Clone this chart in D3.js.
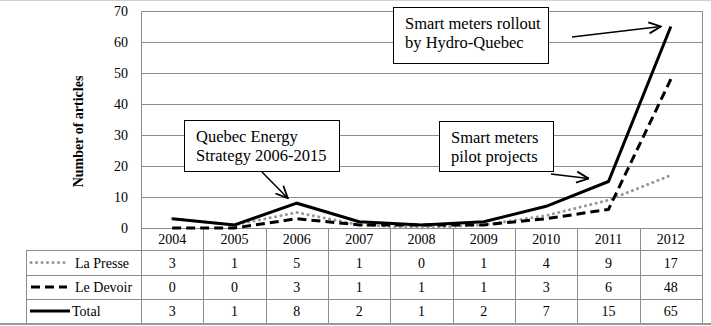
<!DOCTYPE html>
<html><head><meta charset="utf-8">
<script src="https://cdn.jsdelivr.net/npm/d3@7"></script>
<style>body{margin:0;background:#fff}svg{display:block}</style>
</head><body>
<script>
const years = [2004,2005,2006,2007,2008,2009,2010,2011,2012];
const laPresse = [3,1,5,1,0,1,4,9,17];
const leDevoir = [0,0,3,1,1,1,3,6,48];
const total = [3,1,8,2,1,2,7,15,65];
const yTicks = [0,10,20,30,40,50,60,70];
const seriesNames = ["La Presse","Le Devoir","Total"];

const FONT = "'Liberation Serif', 'Times New Roman', 'DejaVu Serif', serif";
const W = 711, H = 326;
const pLeft = 141, pRight = 702, pTop = 11, pBottom = 228;
const svg = d3.select("body").append("svg").attr("width", W).attr("height", H)
  .style("font-family", FONT);

const x = d3.scaleBand().domain(years).range([pLeft, pRight]);
const y = d3.scaleLinear().domain([0,70]).range([pBottom, pTop]);

// frame lines (top light, bottom dark)
svg.append("line").attr("x1",0).attr("x2",W).attr("y1",0.5).attr("y2",0.5).attr("stroke","#d0d0d0");
svg.append("line").attr("x1",0).attr("x2",W).attr("y1",324).attr("y2",324).attr("stroke","#777").attr("stroke-width",1.5);

// gridlines
svg.append("g").selectAll("line").data(yTicks).join("line")
  .attr("x1",pLeft).attr("x2",pRight).attr("y1",d=>Math.round(y(d))+0.5).attr("y2",d=>Math.round(y(d))+0.5)
  .attr("stroke","#8c8c8c").attr("stroke-width",1);
svg.append("line").attr("x1",pLeft+0.5).attr("x2",pLeft+0.5).attr("y1",y(70)).attr("y2",323).attr("stroke","#8c8c8c");
svg.append("line").attr("x1",pRight+0.5).attr("x2",pRight+0.5).attr("y1",y(70)).attr("y2",323).attr("stroke","#8c8c8c");

// y axis labels
const yAxis = d3.axisLeft(y).tickValues(yTicks).tickSize(0).tickPadding(13);
const ga = svg.append("g").attr("transform",`translate(${pLeft},0)`).call(yAxis);
ga.attr("font-family", FONT).attr("font-size",14);
ga.select(".domain").remove();
ga.selectAll("text").attr("fill","#000");

svg.append("text").attr("transform",`translate(83,${(pTop+pBottom)/2+12}) rotate(-90)`)
  .attr("text-anchor","middle").attr("font-size",14).attr("font-weight","bold").text("Number of articles");

// table
const rowH = [228, 250, 275, 299, 323];
const tbl = svg.append("g");
tbl.selectAll("line.v").data(years.slice(1)).join("line")
  .attr("x1",d=>Math.round(x(d))+0.5).attr("x2",d=>Math.round(x(d))+0.5)
  .attr("y1",rowH[0]).attr("y2",rowH[4]).attr("stroke","#8c8c8c");
tbl.selectAll("line.h").data(rowH.slice(1,4)).join("line")
  .attr("x1",26).attr("x2",pRight).attr("y1",d=>d+0.5).attr("y2",d=>d+0.5)
  .attr("stroke","#8c8c8c");
tbl.append("line").attr("x1",26.5).attr("x2",26.5).attr("y1",rowH[1]).attr("y2",rowH[4]).attr("stroke","#8c8c8c");

tbl.selectAll("text.yr").data(years).join("text")
  .attr("x",d=>x(d)+x.bandwidth()/2).attr("y",(rowH[0]+rowH[1])/2+5)
  .attr("text-anchor","middle").attr("font-size",14).text(d=>d);

const seriesData = [laPresse, leDevoir, total];
const styles = [
  {stroke:"#999", dash:"0.1 5.4", width:3, cap:"round"},
  {stroke:"#000", dash:"9 5", width:3, cap:"butt"},
  {stroke:"#000", dash:null, width:3, cap:"butt"}
];
seriesData.forEach((vals,i)=>{
  const cy = (rowH[i+1]+rowH[i+2])/2;
  tbl.selectAll(null).data(vals).join("text")
    .attr("x",(d,j)=>x(years[j])+x.bandwidth()/2).attr("y",cy+5)
    .attr("text-anchor","middle").attr("font-size",14).text(d=>d);
  tbl.append("line").attr("x1",i===2?30:31).attr("x2",i===2?70:67).attr("y1",cy).attr("y2",cy)
    .attr("stroke",styles[i].stroke).attr("stroke-width",styles[i].width)
    .attr("stroke-dasharray",styles[i].dash).attr("stroke-linecap",styles[i].cap);
  tbl.append("text").attr("x",i===2?72:75).attr("y",cy+5).attr("font-size",14).text(seriesNames[i]);
});

// lines
const line = d3.line().x((d,j)=>x(years[j])+x.bandwidth()/2).y(d=>y(d));
seriesData.forEach((vals,i)=>{
  svg.append("path").attr("d",line(vals)).attr("fill","none")
    .attr("stroke",styles[i].stroke).attr("stroke-width",styles[i].width)
    .attr("stroke-dasharray",styles[i].dash).attr("stroke-linecap",styles[i].cap)
    .attr("stroke-linejoin","miter");
});

// arrow marker
svg.append("defs").append("marker").attr("id","arr").attr("viewBox","0 0 14 14")
  .attr("refX",13).attr("refY",7).attr("markerWidth",14).attr("markerHeight",14)
  .attr("markerUnits","userSpaceOnUse").attr("orient","auto")
  .append("path").attr("d","M1,1.5 L13,7 L1,12.5").attr("fill","none").attr("stroke","#000").attr("stroke-width",1.8);

// annotations (box in pixels, arrow to a data point)
const annotations = [
  {lines:["Quebec Energy","Strategy 2006-2015"], box:[184,120,155,51], from:[262,172], to:[2006,8], off:[-9,-5]},
  {lines:["Smart meters rollout","by Hydro-Quebec"], box:[393,7,155,56], from:[572,37], to:[2012,65], off:[-10,0]},
  {lines:["Smart meters","pilot projects"], box:[439,121,114,50], from:[551,174], to:[2011,15], off:[-20,-3]}
];
annotations.forEach(a=>{
  const g = svg.append("g");
  g.append("rect").attr("x",a.box[0]+0.5).attr("y",a.box[1]+0.5).attr("width",a.box[2]).attr("height",a.box[3])
    .attr("fill","#fff").attr("stroke","#000").attr("stroke-width",1);
  a.lines.forEach((t,k)=>{
    g.append("text").attr("x",a.box[0]+12).attr("y",a.box[1]+22+k*19).attr("font-size",16.5).text(t);
  });
  const tx = x(a.to[0])+x.bandwidth()/2 + a.off[0], ty = y(a.to[1]) + a.off[1];
  g.append("line").attr("x1",a.from[0]).attr("y1",a.from[1]).attr("x2",tx).attr("y2",ty)
    .attr("stroke","#000").attr("stroke-width",1.5).attr("marker-end","url(#arr)");
});
</script>
</body></html>
